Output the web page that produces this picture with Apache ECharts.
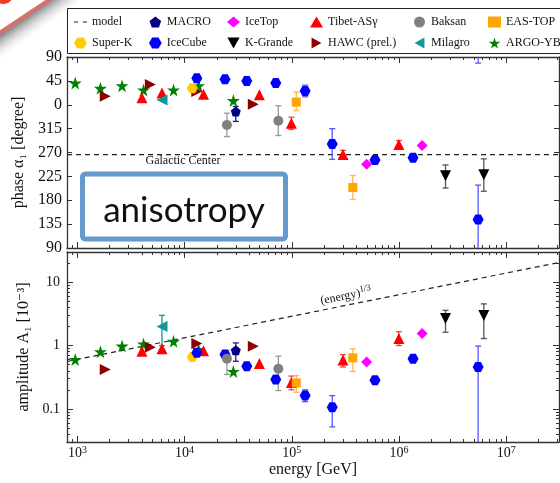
<!DOCTYPE html>
<html>
<head>
<meta charset="utf-8">
<title>Cosmic-ray dipole anisotropy</title>
<script src="https://cdn.jsdelivr.net/npm/echarts@6.0.0/dist/echarts.min.js"></script>
<style>
    html, body { margin: 0; padding: 0; background: #fff; }
    #chart { width: 560px; height: 483px; }
</style>
</head>
<body>
<div id="chart"></div>
<script>
// energy [GeV], phase alpha_1 [degree], amplitude A_1 [10^-3]
const X_MIN = 800, X_MAX = 3.1e7;
const A_MIN = 0.03, A_MAX = 30;
const PHASE_MIN = -270, PHASE_MAX = 90;

// tick labels (decade exponents)
const energyDecades = [3, 4, 5, 6, 7];
const ampDecades = [-1, 0, 1];

// model lines
const galacticCenter = 266;
const modelE = [800, 3.1e7];
const modelAmp = [0.56, 20.5];

// experiments (phase errors: [minus, plus] in degree, amplitude errors: [low, high])
const argoE = [955, 1640, 2610, 4140, 7890, 13500, 28500];
const argoPhase = [41, 31, 36, 28, 28, 36, 8];
const argoAmp = [0.60, 0.80, 0.98, 1.06, 1.17, 0.87, 0.39];

const tibetE = [4000, 6150, 15000, 49800, 99000, 300000, 995000];
const tibetPhase = [13, 22, 20, 19, 325, 266, 285];
const tibetAmp = [0.81, 0.89, 0.83, 0.52, 0.26, 0.59, 1.29];
const tibetPhaseErr = [null, null, null, null, [11.5, 11.5], [8, 8], [7.5, 7.5]];
const tibetAmpErr = [null, null, null, null, [0.20, 0.33], [0.46, 0.72], [1.0, 1.65]];

const hawcE = [1820, 4790, 13000, 43700];
const hawcPhase = [16, 38, 25, 1];
const hawcAmp = [0.42, 0.94, 1.08, 0.975];

const milagroE = [6150];
const milagroPhase = [9];
const milagroAmp = [2.0];
const milagroAmpErr = [[1.0, 3.0]];

const superkE = [11800];
const superkPhase = [31];
const superkAmp = [0.66];

const icecubeE = [13000, 23800, 38000, 70800, 133000, 238000, 596000, 1350000, 5460000];
const icecubePhase = [50, 48, 45, 41, 26, 286, 256, 260, 143.5];
const icecubeAmp = [0.77, 0.72, 0.47, 0.29, 0.162, 0.106, 0.283, 0.62, 0.46];
const icecubePhaseErr = [null, null, null, null, [11, 11], [29, 29], [5, 5], [5, 5], [65, 65]];
const icecubeAmpErr = [null, null, null, null, [0.13, 0.20], [0.052, 0.162], [0.25, 0.32], [0.57, 0.68], [0.01, 0.98]];

const macroE = [30000];
const macroPhase = [347.4];
const macroAmp = [0.84];
const macroPhaseErr = [[18.8, 9.4]];
const macroAmpErr = [[0.565, 1.10]];

const baksanE = [24800, 74800];
const baksanPhase = [322, 330];
const baksanAmp = [0.62, 0.43];
const baksanPhaseErr = [[22, 22], [28, 28]];
const baksanAmpErr = [[0.35, 0.84], [0.195, 0.68]];

const eastopE = [110000, 370000];
const eastopPhase = [5, 204];
const eastopAmp = [0.257, 0.64];
const eastopPhaseErr = [[16, 19], [22.6, 22.6]];
const eastopAmpErr = [[0.183, 0.336], [0.39, 0.89]];

const icetopE = [498000, 1640000];
const icetopPhase = [248, 283];
const icetopAmp = [0.55, 1.55];

const kgrandeE = [2710000, 6170000];
const kgrandePhase = [226, 228];
const kgrandeAmp = [2.67, 2.98];
const kgrandePhaseErr = [[23, 20.5], [31, 30]];
const kgrandeAmpErr = [[1.62, 3.6], [1.29, 4.55]];

const SERIF = '"Liberation Serif", "DejaVu Serif", serif';
const FRAME = '#333';

const HEX = 'path://M2.5,0 L7.5,0 L10,4.33 L7.5,8.66 L2.5,8.66 L0,4.33 Z';
const PENTA = 'path://M5,0 L10,3.8 L8.1,9.5 L1.9,9.5 L0,3.8 Z';
const STAR = 'path://M50,0 L61,35 L98,35 L68,57 L79,91 L50,70 L21,91 L32,57 L2,35 L39,35 Z';
const TRI_DOWN = 'path://M0,0 L10,0 L5,9 Z';
const TRI_RIGHT = 'path://M0,0 L9,5 L0,10 Z';
const TRI_LEFT = 'path://M9,0 L0,5 L9,10 Z';
const DASH_ICON = 'path://M0,0 L4,0 L4,1.2 L0,1.2 Z M8.5,0 L12.5,0 L12.5,1.2 L8.5,1.2 Z';

const experiments = [
    {name: 'ARGO-YBJ', symbol: STAR, size: 13, color: '#008000', bar: '#008000', e: argoE, phase: argoPhase, amp: argoAmp},
    {name: 'HAWC (prel.)', symbol: TRI_RIGHT, size: 11, color: '#8b0000', bar: '#8b0000', e: hawcE, phase: hawcPhase, amp: hawcAmp},
    {name: 'Tibet-ASγ', symbol: 'triangle', size: 11, color: '#ff0000', bar: '#ff4040', e: tibetE, phase: tibetPhase, amp: tibetAmp, phaseErr: tibetPhaseErr, ampErr: tibetAmpErr},
    {name: 'Milagro', symbol: TRI_LEFT, size: 11, color: '#119999', bar: '#119999', e: milagroE, phase: milagroPhase, amp: milagroAmp, ampErr: milagroAmpErr},
    {name: 'Super-K', symbol: HEX, size: [11, 10], color: '#ffcc00', bar: '#ffcc00', e: superkE, phase: superkPhase, amp: superkAmp},
    {name: 'IceCube', symbol: HEX, size: [11, 10], color: '#0000ff', bar: '#5555ff', e: icecubeE, phase: icecubePhase, amp: icecubeAmp, phaseErr: icecubePhaseErr, ampErr: icecubeAmpErr},
    {name: 'MACRO', symbol: PENTA, size: 10, color: '#000080', bar: '#1a1a99', e: macroE, phase: macroPhase, amp: macroAmp, phaseErr: macroPhaseErr, ampErr: macroAmpErr},
    {name: 'Baksan', symbol: 'circle', size: 10, color: '#808080', bar: '#999999', e: baksanE, phase: baksanPhase, amp: baksanAmp, phaseErr: baksanPhaseErr, ampErr: baksanAmpErr},
    {name: 'EAS-TOP', symbol: 'rect', size: 9, color: '#ffa500', bar: '#ffb84d', e: eastopE, phase: eastopPhase, amp: eastopAmp, phaseErr: eastopPhaseErr, ampErr: eastopAmpErr},
    {name: 'IceTop', symbol: 'diamond', size: 11, color: '#ff00ff', bar: '#ff00ff', e: icetopE, phase: icetopPhase, amp: icetopAmp},
    {name: 'K-Grande', symbol: TRI_DOWN, size: 11, color: '#000000', bar: '#555555', e: kgrandeE, phase: kgrandePhase, amp: kgrandeAmp, phaseErr: kgrandePhaseErr, ampErr: kgrandeAmpErr}
];

// phase axis runs 90 .. -270, labels wrap back into 0..360
function toAxis(ph) {
    return ph > PHASE_MAX ? ph - 360 : ph;
}

function minorTicks(from, to) {
    const out = [];
    for (let d = from; d <= to; d++) {
        for (let k = 2; k <= 9; k++) {
            out.push(d + Math.log10(k));
        }
    }
    return out;
}

function bar(api, x, lo, hi, color) {
    const p1 = api.coord([x, lo]), p2 = api.coord([x, hi]);
    const st = {stroke: color, lineWidth: 1.3};
    return [
        {type: 'line', shape: {x1: p1[0], y1: p1[1], x2: p2[0], y2: p2[1]}, style: st},
        {type: 'line', shape: {x1: p1[0] - 3, y1: p1[1], x2: p1[0] + 3, y2: p1[1]}, style: st},
        {type: 'line', shape: {x1: p2[0] - 3, y1: p2[1], x2: p2[0] + 3, y2: p2[1]}, style: st}
    ];
}

function renderPhaseErr(params, api) {
    const color = api.visual('color');
    const x = api.value(0), c = api.value(1);
    const lo = c - api.value(2), hi = c + api.value(3);
    let kids = bar(api, x, lo, hi, color);
    if (lo < PHASE_MIN) {
        // wraps round to the top of the panel
        kids = kids.concat(bar(api, x, lo + 360, PHASE_MAX + 40, color));
    }
    return {type: 'group', children: kids};
}

function renderAmpErr(params, api) {
    return {type: 'group', children: bar(api, api.value(0), api.value(1), api.value(2), api.visual('color'))};
}

const lx = Math.log10(X_MIN), hx = Math.log10(X_MAX);
const la = Math.log10(A_MIN), ha = Math.log10(A_MAX);

function decoX(grid, position, ticks, len, line, label) {
    return {
        type: 'value', gridIndex: grid, position: position, min: lx, max: hx,
        axisLine: {show: line, onZero: false, lineStyle: {color: FRAME, width: 1.3}},
        axisTick: {show: true, inside: true, length: len, customValues: ticks, lineStyle: {color: FRAME}},
        axisLabel: label || {show: false},
        splitLine: {show: false}
    };
}

function decoY(grid, position, ticks, len, line, label) {
    return {
        type: 'value', gridIndex: grid, position: position, min: la, max: ha,
        axisLine: {show: line, onZero: false, lineStyle: {color: FRAME, width: 1.3}},
        axisTick: {show: true, inside: true, length: len, customValues: ticks, lineStyle: {color: FRAME}},
        axisLabel: label || {show: false},
        splitLine: {show: false}
    };
}

const xMinor = minorTicks(2, 7);
const aMinor = minorTicks(-2, 1);

const energyLabel = {
    show: true, margin: 3, customValues: energyDecades,
    formatter: (v) => '{b|10}{s|' + Math.round(v) + '}',
    rich: {
        b: {fontFamily: SERIF, fontSize: 14, color: '#111'},
        s: {fontFamily: SERIF, fontSize: 10, color: '#111', padding: [0, 0, 7, 0]}
    }
};

const ampLabel = {
    show: true, margin: 7, customValues: ampDecades,
    fontFamily: SERIF, fontSize: 14, color: '#111',
    formatter: (v) => String(+Math.pow(10, v).toPrecision(1))
};

const xAxis = [
    {type: 'log', gridIndex: 0, min: X_MIN, max: X_MAX, show: false},
    decoX(0, 'bottom', energyDecades, 6, true),
    decoX(0, 'bottom', xMinor, 3, false),
    decoX(0, 'top', energyDecades, 6, true),
    decoX(0, 'top', xMinor, 3, false),
    {type: 'log', gridIndex: 1, min: X_MIN, max: X_MAX, show: false},
    Object.assign(decoX(1, 'bottom', energyDecades, 6, true, energyLabel), {
        name: 'energy [GeV]', nameLocation: 'middle', nameGap: 20,
        nameTextStyle: {fontFamily: SERIF, fontSize: 16, color: '#111'}
    }),
    decoX(1, 'bottom', xMinor, 3, false),
    decoX(1, 'top', energyDecades, 6, true),
    decoX(1, 'top', xMinor, 3, false)
];

const yAxis = [
    {
        type: 'value', gridIndex: 0, position: 'left', min: PHASE_MIN, max: PHASE_MAX, interval: 45,
        name: 'phase α₁ [degree]', nameLocation: 'middle', nameGap: 35,
        nameTextStyle: {fontFamily: SERIF, fontSize: 16, color: '#111'},
        axisLine: {show: true, onZero: false, lineStyle: {color: FRAME, width: 1.3}},
        axisTick: {show: true, inside: true, length: 5, lineStyle: {color: FRAME}},
        axisLabel: {
            margin: 5, fontFamily: SERIF, fontSize: 16, color: '#111',
            formatter: (v) => String(((v % 360) + 360) % 360)
        },
        splitLine: {show: false}
    },
    {
        type: 'value', gridIndex: 0, position: 'right', min: PHASE_MIN, max: PHASE_MAX, interval: 45,
        axisLine: {show: true, onZero: false, lineStyle: {color: FRAME, width: 1.3}},
        axisTick: {show: true, inside: true, length: 5, lineStyle: {color: FRAME}},
        axisLabel: {show: false},
        splitLine: {show: false}
    },
    {type: 'log', gridIndex: 1, min: A_MIN, max: A_MAX, show: false},
    Object.assign(decoY(1, 'left', ampDecades, 6, true, ampLabel), {
        name: 'amplitude A₁ [10⁻³]', nameLocation: 'middle', nameGap: 32,
        nameTextStyle: {fontFamily: SERIF, fontSize: 16, color: '#111'}
    }),
    decoY(1, 'left', aMinor, 3, false),
    decoY(1, 'right', ampDecades, 6, true),
    decoY(1, 'right', aMinor, 3, false)
];

const dash = {type: [5, 4], color: '#222', width: 1.2};

const series = [
    {
        type: 'line', name: 'model', xAxisIndex: 5, yAxisIndex: 2, symbol: 'none',
        itemStyle: {color: '#222'}, lineStyle: dash,
        data: modelE.map((e, i) => [e, modelAmp[i]]), z: 2, silent: true
    },
    {
        type: 'line', name: 'Galactic Center', xAxisIndex: 0, yAxisIndex: 0, symbol: 'none',
        itemStyle: {color: '#222'}, lineStyle: dash,
        data: [[X_MIN, toAxis(galacticCenter)], [X_MAX, toAxis(galacticCenter)]], z: 2, silent: true
    }
];

experiments.forEach((ex) => {
    series.push({
        type: 'scatter', name: ex.name, xAxisIndex: 0, yAxisIndex: 0,
        symbol: ex.symbol, symbolSize: ex.size, itemStyle: {color: ex.color, opacity: 1}, z: 5,
        data: ex.e.map((e, i) => [e, toAxis(ex.phase[i])])
    });
    series.push({
        type: 'scatter', name: ex.name, xAxisIndex: 5, yAxisIndex: 2,
        symbol: ex.symbol, symbolSize: ex.size, itemStyle: {color: ex.color, opacity: 1}, z: 5,
        data: ex.e.map((e, i) => [e, ex.amp[i]])
    });
});

experiments.forEach((ex) => {
    if (ex.phaseErr) {
        series.push({
            type: 'custom', name: ex.name, xAxisIndex: 0, yAxisIndex: 0, clip: true, z: 3,
            itemStyle: {color: ex.bar}, renderItem: renderPhaseErr,
            data: ex.e.map((e, i) => ex.phaseErr[i] && [e, toAxis(ex.phase[i]), ex.phaseErr[i][0], ex.phaseErr[i][1]]).filter(Boolean)
        });
    }
    if (ex.ampErr) {
        series.push({
            type: 'custom', name: ex.name, xAxisIndex: 5, yAxisIndex: 2, clip: true, z: 3,
            itemStyle: {color: ex.bar}, renderItem: renderAmpErr,
            data: ex.e.map((e, i) => ex.ampErr[i] && [e, ex.ampErr[i][0], ex.ampErr[i][1]]).filter(Boolean)
        });
    }
});

const legendColumns = [
    {left: 74, names: [{name: 'model', icon: DASH_ICON}, 'Super-K']},
    {left: 149, names: ['MACRO', 'IceCube']},
    {left: 227, names: ['IceTop', 'K-Grande']},
    {left: 310, names: ['Tibet-ASγ', 'HAWC (prel.)']},
    {left: 414, names: ['Baksan', 'Milagro']},
    {left: 488, names: ['EAS-TOP', 'ARGO-YBJ']}
];

const legend = legendColumns.map((col) => ({
    orient: 'vertical', left: col.left, top: 16, padding: 0,
    itemWidth: 13, itemHeight: 11, itemGap: 9, symbolKeepAspect: true,
    textStyle: {fontFamily: SERIF, fontSize: 12, color: '#111'},
    data: col.names
}));

const shadow = new echarts.graphic.LinearGradient(26, 18, 38, 35, [
    {offset: 0, color: 'rgba(120,120,120,0.85)'},
    {offset: 1, color: 'rgba(255,255,255,0)'}
], true);

const graphic = [
    {type: 'polygon', shape: {points: [[0, 34], [51, 0], [82, 0], [0, 58]]}, style: {fill: shadow}, z: 1},
    {type: 'line', shape: {x1: -2, y1: 34, x2: 52, y2: -2}, style: {stroke: '#d6706a', lineWidth: 4}, z: 2},
    {type: 'circle', shape: {cx: 3, cy: -7, r: 11}, style: {fill: '#ee3b2b'}, z: 2},
    {type: 'rect', shape: {x: 67.5, y: 8.5, width: 520, height: 45}, style: {fill: 'none', stroke: '#222', lineWidth: 1}, z: 1},
    {type: 'text', x: 183, y: 161, style: {text: 'Galactic Center', font: '12px ' + SERIF, fill: '#111', textAlign: 'center', textVerticalAlign: 'middle'}, z: 10},
    {
        type: 'text', x: 346, y: 296, rotation: Math.atan(0.2018),
        style: {
            text: '{a|(energy)}{b|1/3}', textAlign: 'center', textVerticalAlign: 'middle',
            rich: {
                a: {fontFamily: SERIF, fontSize: 12, fill: '#111', color: '#111'},
                b: {fontFamily: SERIF, fontSize: 9, fill: '#111', color: '#111', padding: [0, 0, 7, 0]}
            }
        },
        z: 10
    },
    {type: 'rect', shape: {x: 82.5, y: 174, width: 203, height: 65, r: 3}, style: {fill: '#fff', stroke: '#6699cc', lineWidth: 5}, z: 20},
    {type: 'text', x: 184, y: 211, style: {text: 'anisotropy', font: '35px Lato, "Open Sans", sans-serif', fill: '#111', textAlign: 'center', textVerticalAlign: 'middle'}, z: 21}
];

const chart = echarts.init(document.getElementById('chart'), null, {renderer: 'canvas'});
chart.setOption({
    animation: false,
    backgroundColor: '#fff',
    grid: [
        {left: 67, right: 1, top: 57, height: 191, outerBoundsMode: 'none'},
        {left: 67, right: 1, top: 252, height: 190, outerBoundsMode: 'none'}
    ],
    legend: legend,
    xAxis: xAxis,
    yAxis: yAxis,
    series: series,
    graphic: graphic
});
</script>
</body>
</html>
